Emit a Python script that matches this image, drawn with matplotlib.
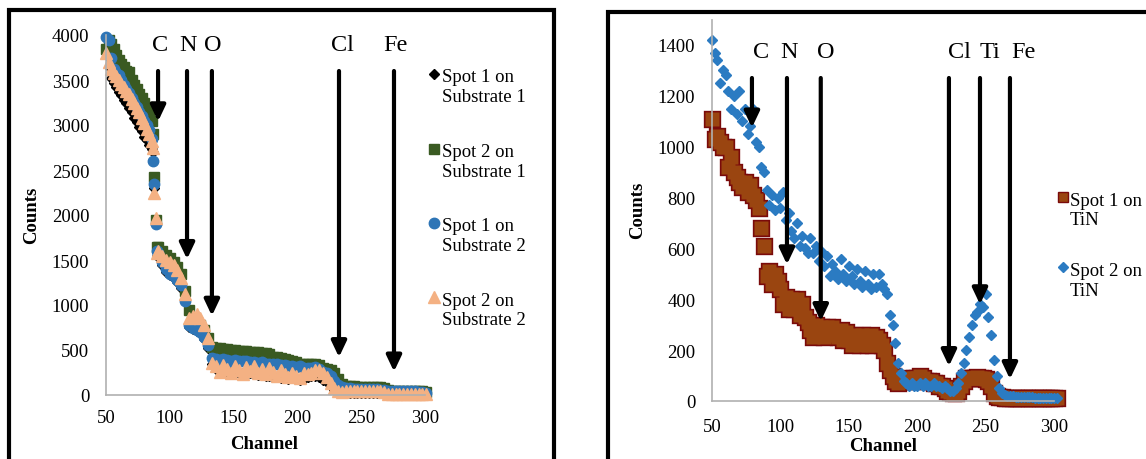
import matplotlib
matplotlib.use("Agg")
import matplotlib.pyplot as plt
from matplotlib.lines import Line2D
from matplotlib.patches import Rectangle

plt.rcParams['font.family'] = ['Liberation Serif', 'DejaVu Serif']

W, H = 1146, 460

# ---- left chart: substrates ----
ch_left = ([50, 52, 54, 56, 58, 60, 62, 64, 66, 68, 70, 72, 74, 76, 78, 80, 82, 84, 86,
            87, 88, 89, 90] + list(range(91, 302, 3)))

spot1_sub1 = [3820, 3650, 3520, 3470, 3420, 3370, 3330, 3280, 3240, 3190,
              3140, 3080, 3030, 2980, 2930, 2870, 2830, 2780, 2730,
              2700, 2300, 1920, 1550,
              1560, 1440, 1370, 1330, 1300, 1260, 1190, 1130, 760, 730,
              710, 690, 620, 520, 340, 290, 270, 260, 250, 260,
              250, 240, 250, 230, 240, 230, 220, 220, 210,
              210, 200, 200, 190, 190, 180, 190, 180, 170, 180,
              200, 210, 210, 200, 170, 140, 100, 60, 30, 20,
              20, 20, 20, 20, 20, 20, 20, 20, 20,
              20, 20, 10, 10, 10, 10, 10, 10, 10, 10,
              10, 10, 10]
spot2_sub1 = [3850, 3950, 3900, 3850, 3780, 3720, 3680, 3640, 3600, 3590,
              3500, 3450, 3400, 3350, 3300, 3250, 3200, 3150, 3050,
              2900, 2420, 1950, 1650,
              1650, 1600, 1560, 1520, 1480, 1420, 1350, 1160, 940, 850,
              810, 780, 720, 630, 530, 520, 520, 510, 510, 500,
              500, 490, 490, 490, 480, 480, 480, 470, 470,
              460, 420, 420, 410, 400, 390, 380, 370, 350, 350,
              340, 340, 340, 330, 300, 290, 280, 250, 180, 120,
              100, 100, 100, 90, 90, 90, 90, 90, 90,
              90, 80, 60, 50, 50, 50, 50, 50, 50, 40,
              40, 40, 30]
spot1_sub2 = [3980, 3950, 3750, 3620, 3580, 3560, 3500, 3450, 3400, 3360,
              3300, 3250, 3200, 3150, 3100, 3050, 3000, 2950, 2850,
              2600, 2350, 1900, 1600,
              1580, 1480, 1400, 1350, 1320, 1280, 1220, 1040, 780, 740,
              720, 700, 640, 560, 410, 400, 390, 400, 390, 380,
              390, 380, 380, 380, 370, 370, 360, 370, 350,
              350, 340, 340, 330, 330, 320, 320, 310, 320, 300,
              300, 300, 310, 290, 260, 240, 210, 160, 110, 90,
              80, 80, 70, 70, 70, 70, 70, 70, 70,
              60, 60, 50, 40, 40, 40, 40, 40, 40, 40,
              30, 30, 20]
spot2_sub2 = [3800, 3700, 3620, 3580, 3540, 3500, 3460, 3420, 3380, 3340,
              3290, 3240, 3190, 3140, 3080, 3020, 2960, 2900, 2820,
              2750, 2250, 1970, 1580,
              1600, 1540, 1500, 1480, 1450, 1390, 1300, 1120, 860, 880,
              900, 860, 780, 630, 360, 320, 260, 330, 290, 240,
              320, 280, 230, 310, 270, 320, 240, 290, 230,
              300, 260, 210, 280, 230, 200, 250, 210, 190, 240,
              230, 250, 280, 280, 250, 200, 130, 80, 40, 30,
              40, 40, 50, 40, 50, 50, 40, 50, 40,
              40, 30, 10, 10, 10, 10, 10, 10, 10, 10,
              10, 10, 10]

# ---- right chart: TiN ----
ch_right = list(range(50, 303, 2))

spot1_tin = [1110, 1030, 1040, 1020, 1000, 1000, 920, 960, 900, 880,
             860, 840, 860, 820, 850, 810, 790, 760, 680, 610,
             490, 510, 460, 500, 470, 440, 380, 410, 360, 400,
             360, 400, 340, 380, 330, 310, 280, 250, 300, 260,
             290, 250, 290, 260, 290, 260, 250, 280, 240, 270,
             240, 220, 260, 240, 220, 260, 230, 220, 260, 220,
             250, 240, 220, 200, 150, 120, 100, 80, 70, 80,
             80, 90, 80, 80, 90, 90, 100, 90, 80,
             80, 80, 70, 70, 60, 60, 50, 40, 35, 30,
             30, 40, 60, 80, 90, 90, 90, 90, 95, 90,
             90, 85, 80, 60, 30, 20, 15, 15, 12, 12,
             10, 10, 10, 10, 10, 10, 10, 10, 10, 10,
             10, 10, 10, 10, 10, 10, 10, 10]
spot2_tin = [1420, 1370, 1340, 1250, 1300, 1280, 1220, 1150, 1200, 1130,
             1220, 1100, 1150, 1050, 1080, 1150, 1020, 1000, 920, 900,
             830, 770, 810, 750, 800, 760, 820, 710, 740, 670,
             640, 700, 610, 650, 600, 580, 640, 580, 610, 550,
             590, 530, 570, 490, 540, 510, 480, 560, 500, 470,
             530, 490, 460, 520, 470, 450, 510, 460, 440, 500,
             450, 500, 460, 440, 420, 340, 300, 230, 150, 110,
             80, 70, 60, 70, 60, 60, 70, 60, 70,
             60, 60, 70, 60, 60, 50, 60, 50, 40, 40,
             50, 70, 110, 150, 200, 250, 300, 340, 350, 380,
             370, 420, 330, 260, 160, 100, 50, 30, 25, 20,
             20, 20, 15, 15, 15, 15, 15, 15, 15, 10,
             10, 10, 10, 10, 10, 10, 10, 10]

# element markers: (label, arrow channel, arrow tip, label channel)
elems_left = [('C', 90.8, 3040, 92), ('N', 113.5, 1510, 114), ('O', 133, 880, 133.5),
              ('Cl', 232.6, 420, 235), ('Fe', 275.7, 260, 277)]
elems_right = [('C', 79.2, 1075, 85.5), ('N', 104.8, 537, 106.5), ('O', 129.5, 314, 133),
               ('Cl', 223.2, 137, 231), ('Ti', 245.9, 380, 253), ('Fe', 267.8, 86, 278)]

BROWN, DARKRED = '#9a4510', '#7a0a0a'

fig = plt.figure(figsize=(W / 100, H / 100), dpi=100)


def fx(px):
    return px / W


def fy(py):
    return 1 - py / H


# panel frames
fig.add_artist(Rectangle((fx(9), fy(480)), fx(545), (480 - 10.5) / H, fill=False,
                         lw=3, ec='black', transform=fig.transFigure, clip_on=False))
fig.add_artist(Rectangle((fx(608), fy(480)), fx(600), (480 - 12.5) / H, fill=False,
                         lw=3, ec='black', transform=fig.transFigure, clip_on=False))


def style_axes(ax, xpad, ypad):
    for s in ['top', 'right']:
        ax.spines[s].set_visible(False)
    for s in ['left', 'bottom']:
        ax.spines[s].set_color('#b0b0b0')
        ax.spines[s].set_linewidth(1.2)
    ax.tick_params(axis='both', length=0, labelsize=13.5)
    ax.tick_params(axis='x', pad=xpad)
    ax.tick_params(axis='y', pad=ypad)
    ax.set_facecolor('none')


def draw_arrows(ax, elems, top, label_y):
    for name, xa, tip, xl in elems:
        ax.annotate('', xy=(xa, tip), xytext=(xa, top),
                    arrowprops=dict(arrowstyle='-|>,head_length=0.95,head_width=0.45',
                                    lw=3, color='black', mutation_scale=10,
                                    shrinkA=0, shrinkB=0),
                    annotation_clip=False)
        ax.text(xl, label_y, name, ha='center', va='center', fontsize=17.5)


# left chart
ax1 = fig.add_axes([fx(106), 64 / H, 319 / W, 360 / H])
ax1.plot(ch_left, spot1_sub1, ls='none', marker='D', ms=5, color='black', clip_on=False)
ax1.plot(ch_left, spot2_sub1, ls='none', marker='s', ms=7, color='#3a5a22', clip_on=False)
ax1.plot(ch_left, spot1_sub2, ls='none', marker='o', ms=7.5, color='#2e75b6', clip_on=False)
ax1.plot(ch_left, spot2_sub2, ls='none', marker='^', ms=8, color='#f4b183', clip_on=False)
ax1.set_xlim(50, 300)
ax1.set_ylim(0, 4000)
ax1.set_xticks(range(50, 301, 50))
ax1.set_yticks(range(0, 4001, 500))
style_axes(ax1, 10, 12)
draw_arrows(ax1, elems_left, 3600, 3890)
fig.text(fx(32), fy(215), 'Counts', rotation=90, ha='center', va='center',
         fontsize=13.5, fontweight='bold')
fig.text(fx(264), fy(445), 'Channel', ha='center', va='center',
         fontsize=13.5, fontweight='bold')

left_legend = [('D', 5, 'black', 75, 'Spot 1 on', 'Substrate 1'),
               ('s', 7, '#3a5a22', 150, 'Spot 2 on', 'Substrate 1'),
               ('o', 7.5, '#2e75b6', 224, 'Spot 1 on', 'Substrate 2'),
               ('^', 8, '#f4b183', 298, 'Spot 2 on', 'Substrate 2')]
for mk, ms, col, py, l1, l2 in left_legend:
    fig.add_artist(Line2D([fx(434)], [fy(py)], marker=mk, ms=ms, color=col, ls='none',
                          transform=fig.transFigure))
    fig.text(fx(442), fy(py + 3), l1, ha='left', va='center', fontsize=13.5)
    fig.text(fx(442), fy(py + 23), l2, ha='left', va='center', fontsize=13.5)

# right chart: brown squares drawn as outline layer + fill layer so they merge
ax2 = fig.add_axes([fx(712), 58 / H, 342 / W, 381.5 / H])
ax2.plot(ch_right, spot1_tin, ls='none', marker='s', ms=9.5, mfc=DARKRED, mec=DARKRED,
         mew=2.4, clip_on=False)
ax2.plot(ch_right, spot1_tin, ls='none', marker='s', ms=9.5, mfc=BROWN, mec='none',
         clip_on=False)
ax2.plot(ch_right, spot2_tin, ls='none', marker='D', ms=5.4, color='#2b7bc2', clip_on=False)
ax2.set_xlim(50, 300)
ax2.set_ylim(0, 1500)
ax2.set_xticks(range(50, 301, 50))
ax2.set_yticks(range(0, 1401, 200))
style_axes(ax2, 12, 12)
draw_arrows(ax2, elems_right, 1270, 1373)
fig.text(fx(638), fy(210), 'Counts', rotation=90, ha='center', va='center',
         fontsize=13.5, fontweight='bold')
fig.text(fx(883), fy(447), 'Channel', ha='center', va='center',
         fontsize=13.5, fontweight='bold')

right_legend = [('s', 7, BROWN, DARKRED, 198, 'Spot 1 on', 'TiN'),
                ('D', 4.8, '#2b7bc2', '#2b7bc2', 268, 'Spot 2 on', 'TiN')]
for mk, ms, fc, ec, py, l1, l2 in right_legend:
    fig.add_artist(Line2D([fx(1063)], [fy(py)], marker=mk, ms=ms, mfc=fc, mec=ec,
                          ls='none', transform=fig.transFigure))
    fig.text(fx(1070), fy(py + 3), l1, ha='left', va='center', fontsize=13.5)
    fig.text(fx(1070), fy(py + 23), l2, ha='left', va='center', fontsize=13.5)

fig.savefig('out.png', dpi=100, facecolor='white')
